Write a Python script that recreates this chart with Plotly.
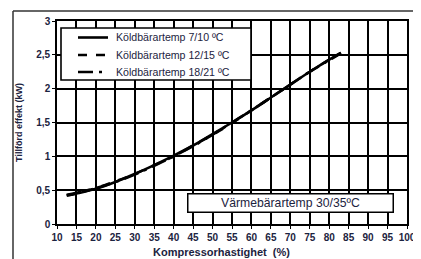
import plotly.graph_objects as go

speed = [12.5, 15, 20, 25, 30, 35, 40, 45, 50, 55, 60, 65, 70, 75, 80, 83]
temp_7_10 = [0.42, 0.45, 0.52, 0.62, 0.74, 0.87, 1.01, 1.16, 1.33, 1.50, 1.68, 1.87, 2.06, 2.25, 2.43, 2.53]
temp_12_15 = [0.42, 0.45, 0.53, 0.63, 0.74, 0.87, 1.00, 1.16, 1.32, 1.49, 1.68, 1.87, 2.06, 2.25, 2.43, 2.53]
temp_18_21 = [0.43, 0.46, 0.53, 0.62, 0.73, 0.86, 1.00, 1.15, 1.32, 1.50, 1.68, 1.87, 2.06, 2.25, 2.42, 2.52]
names = ["Köldbärartemp 7/10 ºC", "Köldbärartemp 12/15 ºC", "Köldbärartemp 18/21 ºC"]
dashes = ["solid", "dash", "longdashdot"]

x_ticks = list(range(10, 101, 5))
y_ticks = [0, 0.5, 1, 1.5, 2, 2.5, 3]
y_ticktext = ["0", "0,5", "1", "1,5", "2", "2,5", "3"]

FONT = "Liberation Sans, Arial, sans-serif"
TXT = "#1c2340"

fig = go.Figure()
for ys, nm, ds in zip([temp_7_10, temp_12_15, temp_18_21], names, dashes):
    fig.add_trace(go.Scatter(
        x=speed, y=ys, name=nm, mode="lines", showlegend=False,
        line=dict(color="black", width=2.6, dash=ds, shape="spline"),
    ))

# page has an 8px body margin
OX, OY = 8, 8
W, H = 413, 251
L, R, T, B = 49, 14, 13, 35
pw, ph = W - L - R, H - T - B


def px(xs):
    return (xs - OX - L) / pw


def py(ys):
    return (H - B - (ys - OY)) / ph


fig.update_layout(
    width=W, height=H,
    margin=dict(l=L, r=R, t=T, b=B, autoexpand=False),
    paper_bgcolor="white", plot_bgcolor="white",
    font=dict(family=FONT, size=10, color=TXT),
    showlegend=False,
    xaxis=dict(
        range=[10, 100], tickvals=x_ticks, ticktext=["<b>%d</b>" % v for v in x_ticks],
        showgrid=True, gridcolor="black", gridwidth=1.6,
        showline=True, linecolor="black", linewidth=1.6, mirror=True,
        ticks="outside", ticklen=3, tickcolor="black",
        tickfont=dict(family=FONT, size=10, color=TXT),
        zeroline=False, fixedrange=True, automargin=False,
    ),
    yaxis=dict(
        range=[0, 3], tickvals=y_ticks, ticktext=["<b>%s</b>" % t for t in y_ticktext],
        showgrid=True, gridcolor="black", gridwidth=1.6,
        showline=True, linecolor="black", linewidth=1.6, mirror=True,
        ticks="outside", ticklen=3, tickcolor="black",
        tickfont=dict(family=FONT, size=10, color=TXT),
        zeroline=False, fixedrange=True, automargin=False,
        title=dict(text="<b>Tillförd effekt (kW)</b>", font=dict(size=9, color=TXT), standoff=12),
    ),
)

# x axis title
fig.add_annotation(xref="paper", yref="paper", x=px(221), y=py(251.5),
                   xanchor="center", yanchor="middle", showarrow=False,
                   text="<b>Kompressorhastighet  (%)</b>",
                   font=dict(family=FONT, size=11, color=TXT))

# outer frame (top and left edges)
fig.add_shape(type="line", xref="paper", yref="paper",
              x0=px(13), x1=px(425), y0=py(11), y1=py(11),
              line=dict(color="#333333", width=1.5))
fig.add_shape(type="line", xref="paper", yref="paper",
              x0=px(13), x1=px(13), y0=py(11), y1=py(265),
              line=dict(color="#333333", width=1.5))

# legend box
fig.add_shape(type="rect", xref="paper", yref="paper",
              x0=px(61), x1=px(251), y0=py(28), y1=py(80),
              line=dict(color="black", width=1.6), fillcolor="white", layer="above")
for nm, ds, ys in zip(names, dashes, [37.5, 55, 72]):
    fig.add_shape(type="line", xref="paper", yref="paper",
                  x0=px(78), x1=px(108), y0=py(ys), y1=py(ys),
                  line=dict(color="black", width=2.6, dash=ds), layer="above")
    fig.add_annotation(xref="paper", yref="paper", x=px(114), y=py(ys),
                       xanchor="left", yanchor="middle", showarrow=False,
                       text=nm, font=dict(family=FONT, size=10.6, color=TXT))

# condition box
fig.add_annotation(xref="paper", yref="paper", x=(px(187) + px(394)) / 2, y=(py(193) + py(213)) / 2,
                   xanchor="center", yanchor="middle",
                   text="Värmebärartemp 30/35ºC", showarrow=False,
                   width=204, height=17, borderpad=0,
                   bgcolor="white", bordercolor="black", borderwidth=1.5,
                   font=dict(family=FONT, size=12.2, color=TXT))

fig.write_html("out.html")
